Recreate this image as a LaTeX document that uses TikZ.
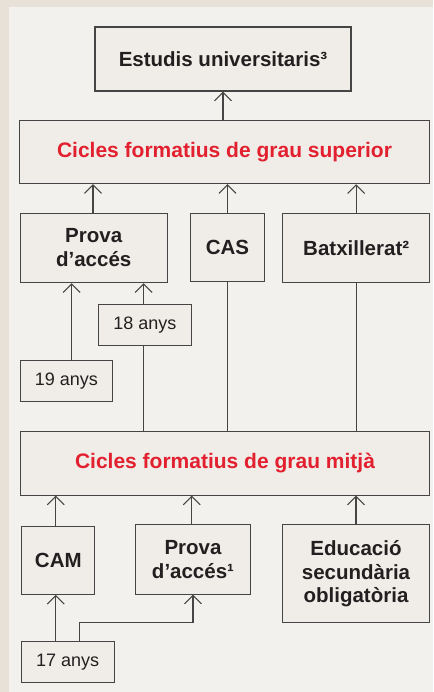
\documentclass[tikz,border=0pt]{standalone}
\usepackage{fontspec}
\setmainfont{Liberation Sans}
\usetikzlibrary{arrows.meta,calc}
\definecolor{outerbg}{HTML}{E8E1D8}
\definecolor{panel}{HTML}{F3F1ED}
\definecolor{boxfill}{HTML}{F0EDE8}
\definecolor{lin}{HTML}{454545}
\definecolor{txt}{HTML}{231F20}
\definecolor{redt}{HTML}{E3202F}
\tikzset{
  box/.style={draw=lin, line width=1.05pt, fill=boxfill, inner sep=0pt, align=center, text=txt,
    font=\fontsize{20.5}{24}\selectfont\bfseries},
  agebox/.style={box, font=\fontsize{18}{22}\selectfont},
  redbox/.style={box, text=redt, font=\fontsize{21}{24}\selectfont\bfseries},
  arr/.style={draw=lin, line width=1.05pt, -{Straight Barb[length=8.5pt,width=17pt,line width=1.05pt]}},
  ln/.style={draw=lin, line width=1.05pt}
}
\begin{document}
\begin{tikzpicture}[x=1pt,y=1pt]
\fill[outerbg] (0,0) rectangle (433,-692);
\fill[panel] (9,-7) rectangle (433,-692);
\useasboundingbox (0,0) rectangle (433,-692);

\node[box, minimum width=256pt, minimum height=64pt] (eu) at (223,-59) {Estudis universitaris³};
\node[redbox, minimum width=410.4pt, minimum height=63.4pt] (cs) at (224.5,-152) {Cicles formatius de grau superior};
\node[box, minimum width=146.7pt, minimum height=69.4pt] (pa) at (93.7,-248) {Prova\\d’accés};
\node[box, minimum width=73.6pt, minimum height=68.4pt] (cas) at (227.5,-247.5) {CAS};
\node[box, minimum width=147pt, minimum height=69.4pt] (bat) at (356.2,-248) {Batxillerat²};
\node[agebox, minimum width=92.6pt, minimum height=41.7pt] (a18) at (145,-324.9) {18 anys};
\node[agebox, minimum width=92.4pt, minimum height=41.7pt] (a19) at (66.5,-380.9) {19 anys};
\node[redbox, minimum width=409.4pt, minimum height=63.3pt] (cm) at (225,-463.4) {Cicles formatius de grau mitjà};
\node[box, minimum width=73.3pt, minimum height=68.3pt] (cam) at (58.3,-560.2) {CAM};
\node[box, minimum width=114.6pt, minimum height=69.3pt] (pa1) at (193,-559.4) {Prova\\d’accés¹};
\node[box, minimum width=146.6pt, minimum height=98pt, font=\fontsize{20.5}{23.5}\selectfont\bfseries] (edu) at (356,-573.7) {Educació\\secundària\\obligatòria};
\node[agebox, minimum width=92.7pt, minimum height=41.7pt] (a17) at (67.7,-661.9) {17 anys};

% top connectors
\draw[arr] (cs.north -| eu.south) -- (eu.south);
\draw[arr] ([xshift=-0.7pt]pa.north) -- ([xshift=-0.7pt]pa.north |- cs.south);
\draw[arr] (cas.north) -- (cas.north |- cs.south);
\draw[arr] (bat.north) -- (bat.north |- cs.south);
% into prova d'acces
\draw[arr] ([xshift=5.2pt]a19.north) -- ([xshift=5.2pt]a19.north |- pa.south);
\draw[arr] ([xshift=-1.3pt]a18.north) -- ([xshift=-1.3pt]a18.north |- pa.south);
% lines from mitja
\draw[ln] ([xshift=-1.3pt]a18.south) -- ([xshift=-1.3pt]a18.south |- cm.north);
\draw[ln] (cas.south) -- (cas.south |- cm.north);
\draw[ln] (bat.south) -- (bat.south |- cm.north);
% into mitja
\draw[arr] ([xshift=-2.6pt]cam.north) -- ([xshift=-2.6pt]cam.north |- cm.south);
\draw[arr] ([xshift=-1.3pt]pa1.north) -- ([xshift=-1.3pt]pa1.north |- cm.south);
\draw[arr] (edu.north) -- (edu.north |- cm.south);
% from 17 anys
\draw[arr] ([xshift=-12pt]a17.north) -- ([xshift=-12pt]a17.north |- cam.south);
\coordinate (t1) at ([xshift=11.6pt]a17.north);
\coordinate (t2) at ($(t1)+(0,17.7)$);
\draw[arr] (t1) -- (t2) -- (t2 -| pa1.south) -- (pa1.south);
\end{tikzpicture}
\end{document}
